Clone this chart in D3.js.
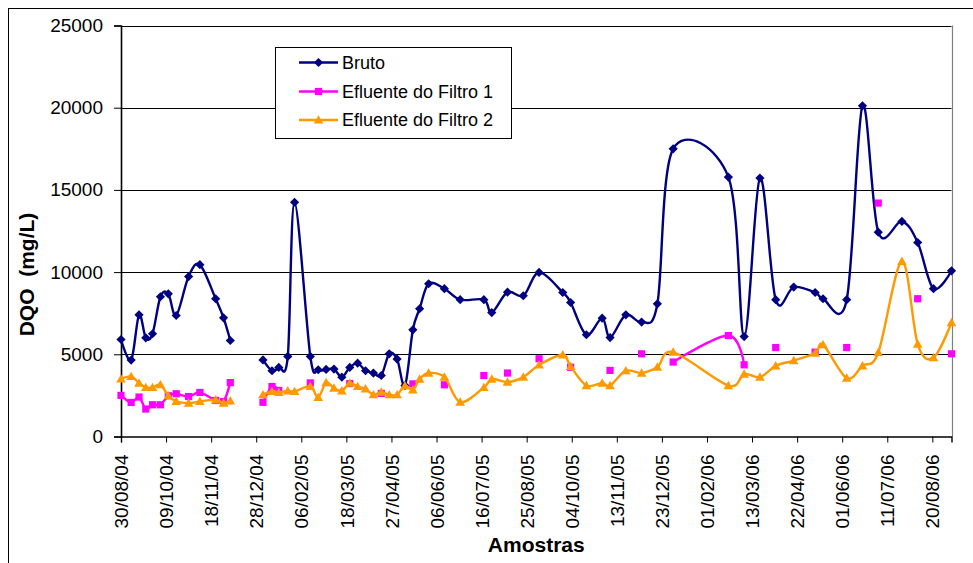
<!DOCTYPE html>
<html><head><meta charset="utf-8">
<script src="https://cdn.jsdelivr.net/npm/d3@7"></script>
<style>
body{margin:0;background:#fff}
svg{display:block}
text{font-family:"Liberation Sans",Arial,sans-serif;fill:#000}
</style>
</head><body>
<svg id="chart" width="973" height="563"></svg>
<script>
// ---- data ----
const dates = ["30/08/04","08/09/04","15/09/04","21/09/04","27/09/04","04/10/04","11/10/04","18/10/04","29/10/04","08/11/04","22/11/04","29/11/04","05/12/04",
  "20/12/04",
  "03/01/05","11/01/05","17/01/05","25/01/05","31/01/05","14/02/05","21/02/05","28/02/05","07/03/05","14/03/05","21/03/05","28/03/05","04/04/05","11/04/05","18/04/05","25/04/05","02/05/05","09/05/05","16/05/05","22/05/05","30/05/05","13/06/05","27/06/05","18/07/05","25/07/05","08/08/05","22/08/05","05/09/05","26/09/05","03/10/05","17/10/05","31/10/05","07/11/05","21/11/05","05/12/05","19/12/05","02/01/06","20/02/06","06/03/06","20/03/06","03/04/06","19/04/06","08/05/06","15/05/06","05/06/06","19/06/06","03/07/06","24/07/06","07/08/06","21/08/06","06/09/06"];
const bruto = [5900,4650,7400,6000,6250,8500,8680,7360,9730,10450,8380,7220,5840,
  null,
  4660,4000,4200,4870,14250,4870,4060,4080,4100,3610,4200,4460,4000,3860,3710,5030,4710,3100,6490,7770,9290,8990,8320,8320,7540,8780,8560,9980,8760,8150,6190,7200,6020,7400,6960,8070,17500,15780,6080,15720,8320,9090,8760,8380,8320,20120,12430,13080,11800,8990,10080];
const filtro1 = [2500,2070,2400,1670,1930,1930,2480,2600,2430,2680,2190,2130,3280,
  null,
  2080,3040,2800,null,null,3260,null,null,null,null,3220,null,null,null,2620,null,null,null,3200,null,null,3145,null,3710,null,3860,null,4730,null,4210,null,null,4020,null,5030,null,4530,6140,4360,null,5410,null,5130,null,5410,null,14200,null,8380,null,5030];
const filtro2 = [3500,3650,3250,2980,2980,3150,2480,2130,2030,2130,2230,2030,2170,
  null,
  2540,2740,2680,2780,2740,3040,2380,3280,2940,2780,3250,3040,2900,2540,2700,2540,2540,3080,2840,3490,3860,3610,2090,2980,3490,3310,3610,4350,4970,4260,3100,3250,3100,4000,3860,4220,5130,3100,3800,3610,4300,4620,5070,5580,3550,4300,5110,10650,5620,4800,6930];
const seriesNames = ["Bruto","Efluente do Filtro 1","Efluente do Filtro 2"];
const seriesColors = ["#000080","#FF00FF","#FF9900"];
const xTickLabels = ["30/08/04","09/10/04","18/11/04","28/12/04","06/02/05","18/03/05","27/04/05","06/06/05","16/07/05","25/08/05","04/10/05","13/11/05","23/12/05","01/02/06","13/03/06","22/04/06","01/06/06","11/07/06","20/08/06"];
const yTicks = [0,5000,10000,15000,20000,25000];
const xTitle = "Amostras";
const yTitle = "DQO  (mg/L)";

// ---- layout ----
const parse = d3.utcParse("%d/%m/%y");
const L = 121, R = 951.5, T = 25.5, B = 436.5;
const svg = d3.select("#chart");

// outer frame
svg.append("rect").attr("x",8.5).attr("y",8.5).attr("width",1000).attr("height",600)
  .attr("fill","#fff").attr("stroke","#000").attr("stroke-width",1);

const x = d3.scaleUtc().domain([parse(dates[0]), parse(dates[dates.length-1])]).range([L,R]);
const y = d3.scaleLinear().domain([0,25000]).range([B,T]);

// gridlines
svg.append("g").selectAll("line").data(yTicks.filter(v=>v>0)).join("line")
  .attr("x1",L).attr("x2",R)
  .attr("y1",d=>Math.round(y(d))+0.5).attr("y2",d=>Math.round(y(d))+0.5)
  .attr("stroke","#000").attr("stroke-width",1);
// right border
svg.append("line").attr("x1",Math.round(R)+0.5).attr("x2",Math.round(R)+0.5)
  .attr("y1",y(25000)).attr("y2",y(0)).attr("stroke","#808080").attr("stroke-width",1.2);

// y axis
const yAxis = svg.append("g").attr("transform",`translate(${L},0)`)
  .call(d3.axisLeft(y).tickValues(yTicks).tickSize(7).tickPadding(11).tickFormat(d3.format("d")));
yAxis.select(".domain").attr("stroke","#000").attr("stroke-width",1.6);
yAxis.selectAll(".tick line").attr("stroke","#000");
yAxis.selectAll("text").style("font-size","19px").attr("fill","#000");

// x axis
const xAxis = svg.append("g").attr("transform",`translate(0,${B})`)
  .call(d3.axisBottom(x).tickValues(xTickLabels.map(parse)).tickSize(6)
    .tickFormat((d,i)=>xTickLabels[i]));
xAxis.select(".domain").attr("stroke","#000").attr("stroke-width",1.4);
xAxis.selectAll(".tick line").attr("stroke","#000");
xAxis.selectAll("text").style("font-size","19px").attr("fill","#000")
  .attr("transform","rotate(-90)").attr("x",-18).attr("y",0).attr("dy","0.35em")
  .style("text-anchor","end");

// titles
svg.append("text").attr("x",(L+R)/2).attr("y",552).attr("text-anchor","middle")
  .style("font-size","21px").style("font-weight","bold").text(xTitle);
svg.append("text").attr("transform","translate(34,274.5) rotate(-90)").attr("text-anchor","middle")
  .style("font-size","21px").style("font-weight","bold").style("white-space","pre").text(yTitle);

// marker shapes
function markerPath(type){
  if(type===0) return "M0,-4.6L4.6,0L0,4.6L-4.6,0Z";
  if(type===1) return "M-3.6,-3.6H3.6V3.6H-3.6Z";
  return "M0,-4.8L4.8,3.6L-4.8,3.6Z";
}

const series = [bruto, filtro1, filtro2];
const line = d3.line().defined(d=>d.v!=null).x(d=>x(d.t)).y(d=>y(d.v)).curve(d3.curveCardinal.tension(0));

series.forEach((vals,si)=>{
  const pts = dates.map((dt,i)=>({t:parse(dt), v:vals[i]}));
  svg.append("path").datum(pts).attr("d",line)
    .attr("fill","none").attr("stroke",seriesColors[si]).attr("stroke-width",2.4)
    .attr("stroke-linejoin","round").attr("stroke-linecap","round");
  svg.append("g").selectAll("path").data(pts.filter(d=>d.v!=null)).join("path")
    .attr("transform",d=>`translate(${x(d.t)},${y(d.v)})`)
    .attr("d",markerPath(si)).attr("fill",seriesColors[si]);
});

// legend
const lg = svg.append("g");
lg.append("rect").attr("x",275.5).attr("y",47.5).attr("width",236).attr("height",91)
  .attr("fill","#fff").attr("stroke","#000").attr("stroke-width",1);
const ly = [62.5, 91.5, 120];
seriesNames.forEach((n,i)=>{
  lg.append("line").attr("x1",299).attr("x2",338).attr("y1",ly[i]).attr("y2",ly[i])
    .attr("stroke",seriesColors[i]).attr("stroke-width",2.4);
  lg.append("path").attr("transform",`translate(318.5,${ly[i]})`).attr("d",markerPath(i)).attr("fill",seriesColors[i]);
  lg.append("text").attr("x",342).attr("y",ly[i]).attr("dy","0.35em").style("font-size","18px").text(n);
});
</script>
</body></html>
